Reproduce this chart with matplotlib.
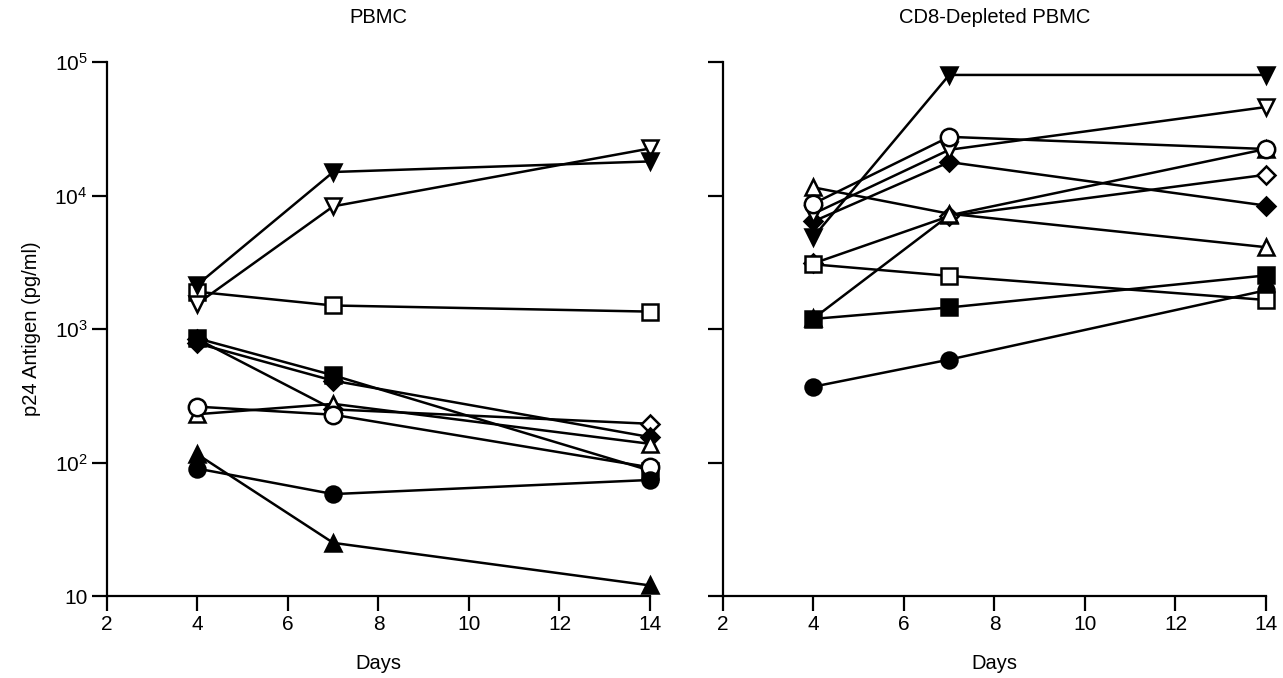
import numpy as np
import matplotlib as mpl
mpl.use('Agg')
from matplotlib import pyplot as plt
from matplotlib.ticker import FixedLocator, FuncFormatter, NullLocator

plt.rcParams['font.family'] = ['Liberation Sans', 'DejaVu Sans']

days = [4, 7, 14]

# PBMC panel, p24 antigen (pg/ml)
pbmc_fdown = [2150, 15000, 18000]
pbmc_odown = [1550, 8300, 22500]
pbmc_osq = [1900, 1500, 1350]
pbmc_fsq = [850, 450, 87]
pbmc_fdia = [780, 410, 155]
pbmc_odia = [840, 250, 195]
pbmc_otri = [230, 275, 138]
pbmc_ocirc = [262, 228, 92]
pbmc_fcirc = [90, 58, 74]
pbmc_ftri = [115, 25, 12]

# CD8-depleted PBMC panel
cd8_fdown = [4900, 80000, 80000]
cd8_odown = [7300, 22000, 46000]
cd8_ocirc = [8700, 27500, 22300]
cd8_fdia = [6400, 17800, 8400]
cd8_odia = [3100, 7000, 14300]
cd8_otri = [11500, 7300, 4100]
cd8_ftri = [1200, 7100, 22300]
cd8_osq = [3050, 2500, 1650]
cd8_fsq = [1190, 1450, 2520]
cd8_fcirc = [370, 590, 1950]

styles = {
    'fdown': ('v', 'black'), 'odown': ('v', 'white'),
    'fsq': ('s', 'black'), 'osq': ('s', 'white'),
    'fdia': ('D', 'black'), 'odia': ('D', 'white'),
    'ftri': ('^', 'black'), 'otri': ('^', 'white'),
    'fcirc': ('o', 'black'), 'ocirc': ('o', 'white'),
}

left_series = [('odia', pbmc_odia), ('fdia', pbmc_fdia), ('fsq', pbmc_fsq),
               ('otri', pbmc_otri), ('ocirc', pbmc_ocirc), ('fcirc', pbmc_fcirc),
               ('ftri', pbmc_ftri), ('osq', pbmc_osq), ('odown', pbmc_odown),
               ('fdown', pbmc_fdown)]
right_series = [('ftri', cd8_ftri), ('odia', cd8_odia), ('fcirc', cd8_fcirc),
                ('fsq', cd8_fsq), ('osq', cd8_osq), ('otri', cd8_otri),
                ('fdia', cd8_fdia), ('odown', cd8_odown), ('ocirc', cd8_ocirc),
                ('fdown', cd8_fdown)]


def ylab(v, pos):
    if v == 10:
        return '10'
    return r'$\mathregular{10^{%d}}$' % int(round(np.log10(v)))


def draw(ax, series, title, show_y):
    for key, vals in series:
        m, fc = styles[key]
        ms = 9 if m == 'D' else 11.5
        if key == 'ocirc':
            ms = 12.5
        ax.plot(days, vals, color='black', lw=1.8, marker=m, ms=ms,
                mfc=fc, mec='black', mew=1.8, clip_on=False)
    ax.set_yscale('log')
    ax.set_xlim(2, 14)
    ax.set_ylim(10, 1e5)
    ax.set_xticks([2, 4, 6, 8, 10, 12, 14])
    ax.yaxis.set_major_locator(FixedLocator([10, 1e2, 1e3, 1e4, 1e5]))
    ax.yaxis.set_minor_locator(NullLocator())
    if show_y:
        ax.yaxis.set_major_formatter(FuncFormatter(ylab))
        ax.set_ylabel('p24 Antigen (pg/ml)', fontsize=14.5, labelpad=10)
    else:
        ax.set_yticklabels([])
    for s in ['top', 'right']:
        ax.spines[s].set_visible(False)
    for s in ['left', 'bottom']:
        ax.spines[s].set_linewidth(1.6)
    ax.tick_params(direction='out', length=11, width=1.6, labelsize=15, pad=3)
    ax.set_xlabel('Days', fontsize=14.5, labelpad=14)
    ax.set_title(title, fontsize=14.5, pad=28)


fig = plt.figure(figsize=(12.83, 6.78), dpi=100)
H = 678
W = 1283
ax1 = fig.add_axes([107 / W, 1 - 596 / H, (650 - 107) / W, (596 - 62) / H])
ax2 = fig.add_axes([723 / W, 1 - 596 / H, (1266 - 723) / W, (596 - 62) / H])

draw(ax1, left_series, 'PBMC', True)
draw(ax2, right_series, 'CD8-Depleted PBMC', False)

fig.savefig('out.png', dpi=100)
plt.close(fig)
